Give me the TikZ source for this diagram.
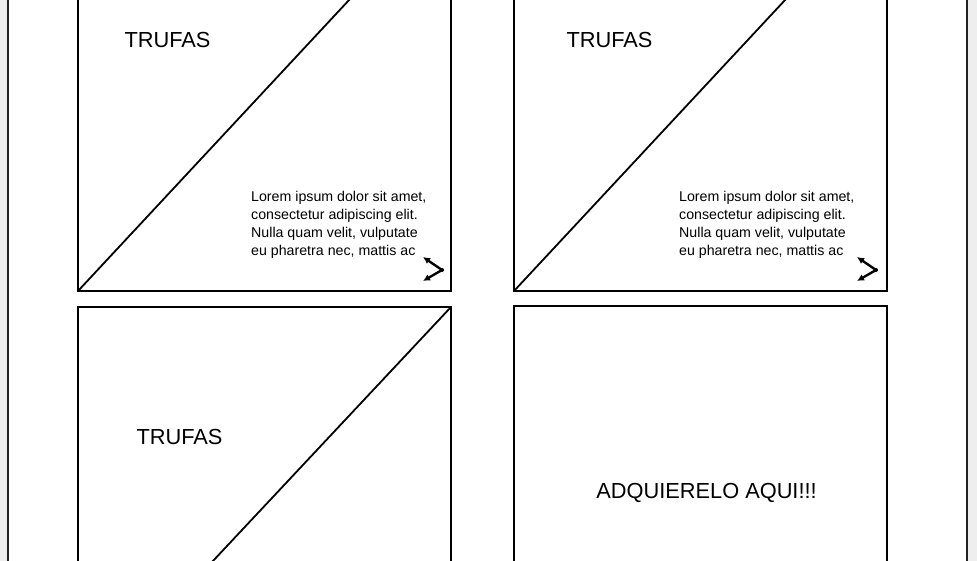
\documentclass[tikz,border=0pt]{standalone}
\usepackage{fontspec}
\setmainfont{Liberation Sans}
\usetikzlibrary{arrows.meta}
\definecolor{pagegray}{HTML}{EEEEEE}
\definecolor{edgegray}{HTML}{222222}
\tikzset{panel/.style={draw=black, line width=1.9pt},
  cut/.style={black, line width=1.8pt},
  title/.style={inner sep=0pt, font=\fontsize{21.8}{24}\selectfont},
  blurb/.style={inner sep=0pt, anchor=north west, align=left, font=\fontsize{14.2}{18}\selectfont},
  flip/.style={line width=2.4pt, {Latex[length=7pt,width=7pt]}-{Latex[length=7pt,width=7pt]}}}

\begin{document}
\begin{tikzpicture}[x=1pt,y=-1pt]
  \useasboundingbox (0,0) rectangle (977,561);
  \clip (0,0) rectangle (977,561);
  \fill[pagegray] (0,0) rectangle (977,561);
  \fill[white] (8,0) rectangle (967,561);
  \draw[edgegray, line width=2.4pt] (8,-5) -- (8,570) (967,-5) -- (967,570);
  % top row: two panels with text
  \foreach \dx/\n/\tx/\bx/\ix in {0/l/167.5/251/0,436/r/173.5/243/-2} {
   \begin{scope}[xshift=\dx pt]
    \draw[panel] (78,-10) rectangle (451,291);
    \node[title] (t\n) at (\tx,40) {TRUFAS};
    \coordinate (d\n) at (78,291);
    \coordinate (e\n) at (350,-1);
    \draw[cut] (d\n) -- (e\n);
    \node[blurb] (b\n) at (\bx,191.5) {Lorem ipsum dolor sit amet,\\consectetur adipiscing elit.\\Nulla quam velit, vulputate\\eu pharetra nec, mattis ac};
    \coordinate (p\n) at (423+\ix,257);
    \coordinate (v\n) at (442+\ix,270);
    \coordinate (q\n) at (423+\ix,281);
    \draw[flip] (p\n) -- (v\n) -- (q\n);
    \fill (v\n) circle (2pt);
   \end{scope}
  }
  % bottom row
  \draw[panel] (78,307) rectangle (451,575);
  \node[title] (tb) at (179.5,437) {TRUFAS};
  \coordinate (db) at (451,307);
  \coordinate (eb) at (212,562);
  \draw[cut] (db) -- (eb);
  \draw[panel] (514,306) rectangle (887,575);
  \node[title] (buy) at (706.5,493) {ADQUIERELO AQUI!!!};
\end{tikzpicture}
\end{document}
